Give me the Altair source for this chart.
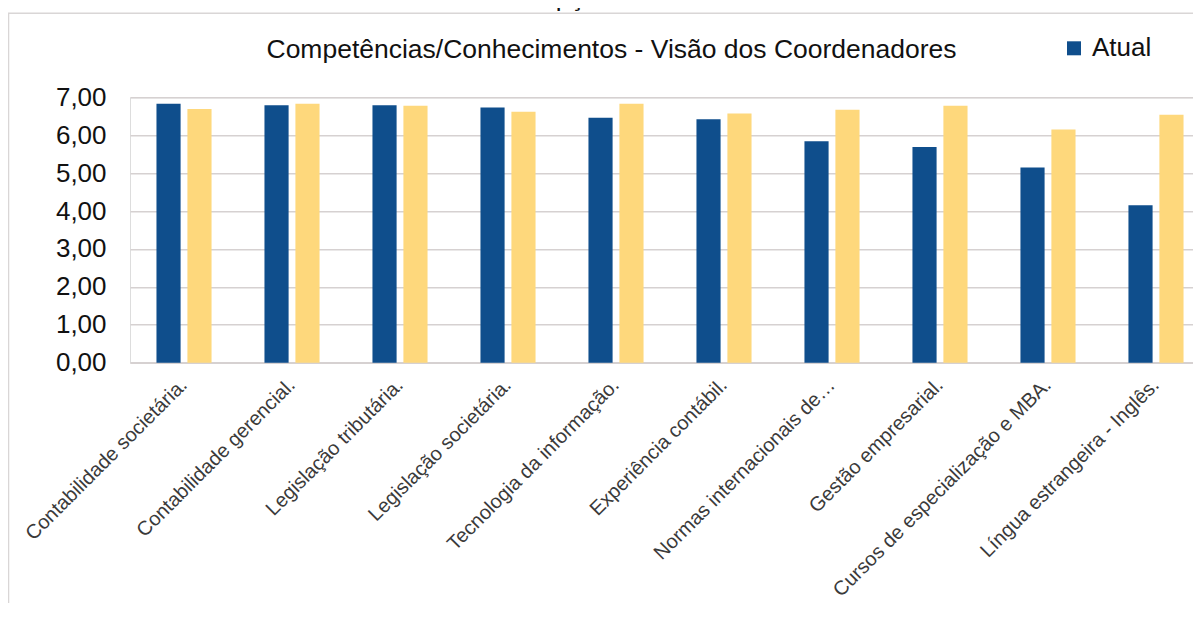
import altair as alt
import pandas as pd

categories = [
    "Contabilidade societária.",
    "Contabilidade gerencial.",
    "Legislação tributária.",
    "Legislação societária.",
    "Tecnologia da informação.",
    "Experiência contábil.",
    "Normas internacionais de…",
    "Gestão empresarial.",
    "Cursos de especialização e MBA.",
    "Língua estrangeira - Inglês.",
]
series = ["Atual", "Ideal"]
atual = [6.83, 6.79, 6.79, 6.73, 6.46, 6.42, 5.84, 5.69, 5.15, 4.15]
ideal = [6.69, 6.83, 6.78, 6.62, 6.83, 6.57, 6.67, 6.78, 6.15, 6.54]
y_ticks = [0, 1, 2, 3, 4, 5, 6, 7]

title_text = "Gráfico 1 – Percepções dos Coordenadores"
subtitle_text = "Competências/Conhecimentos - Visão dos Coordenadores"

rows = []
for c, a, i in zip(categories, atual, ideal):
    rows.append({"cat": c, "serie": series[0], "valor": a})
    rows.append({"cat": c, "serie": series[1], "valor": i})
df = pd.DataFrame(rows)

FONT = "Liberation Sans"
GRID = "#d6d1d1"
BLUE = "#0f4e8c"
YELLOW = "#fed87c"

bars = alt.Chart(df).mark_bar().encode(
    x=alt.X(
        "cat:N",
        sort=categories,
        scale=alt.Scale(paddingInner=0.49, paddingOuter=0.245),
        axis=alt.Axis(
            title=None,
            labelAngle=-45,
            labelAlign="right",
            labelBaseline="middle",
            labelFontSize=20,
            labelPadding=19,
            labelColor="#3a3a3a",
            labelFont=FONT,
            labelLimit=400,
            ticks=False,
            domainColor=GRID,
            domainWidth=1.5,
        ),
    ),
    xOffset=alt.XOffset(
        "serie:N", sort=series, scale=alt.Scale(paddingInner=0.22, paddingOuter=0)
    ),
    y=alt.Y(
        "valor:Q",
        scale=alt.Scale(domain=[0, 7], nice=False),
        axis=alt.Axis(
            title=None,
            values=y_ticks,
            labelExpr="replace(format(datum.value, '.2f'), '.', ',')",
            labelFontSize=26,
            labelFont=FONT,
            labelColor="#111111",
            labelPadding=24,
            ticks=False,
            domain=False,
            gridColor=GRID,
            gridWidth=1.5,
        ),
    ),
    color=alt.Color(
        "serie:N",
        sort=series,
        scale=alt.Scale(domain=series, range=[BLUE, YELLOW]),
        legend=alt.Legend(
            title=None,
            values=[series[0]],
            orient="none",
            legendX=931,
            legendY=-62,
            direction="horizontal",
            symbolType="square",
            symbolSize=196,
            symbolStrokeWidth=0,
            symbolOpacity=1,
            labelFontSize=26,
            labelFont=FONT,
            labelColor="#111111",
            labelOffset=5,
            padding=0,
        ),
    ),
)

border = alt.Chart(pd.DataFrame({"k": [0]})).mark_rect(
    fillOpacity=0, stroke="#d9d6d6", strokeWidth=1.5
).encode(
    x=alt.value(-121.5), x2=alt.value(1300), y=alt.value(-84), y2=alt.value(700)
)

subtitle = alt.Chart(pd.DataFrame({"t": [subtitle_text]})).mark_text(
    font=FONT, fontSize=26.5, color="#111111", align="center", baseline="alphabetic"
).encode(text="t:N", x=alt.value(481.5), y=alt.value(-39.6))

title = alt.Chart(pd.DataFrame({"t": [title_text]})).mark_text(
    font=FONT, fontSize=26, color="#111111", align="center", baseline="alphabetic"
).encode(text="t:N", x=alt.value(477), y=alt.value(-91.5))

chart = alt.layer(border, bars, subtitle, title).properties(
    width=1080,
    height=265.4,
    padding={"left": 122, "top": 89.3, "right": -17, "bottom": 240},
    autosize=alt.AutoSizeParams(type="none"),
).configure_view(stroke=None).configure(font=FONT)

chart.save("out.html", embed_options={"renderer": "svg", "actions": False})
